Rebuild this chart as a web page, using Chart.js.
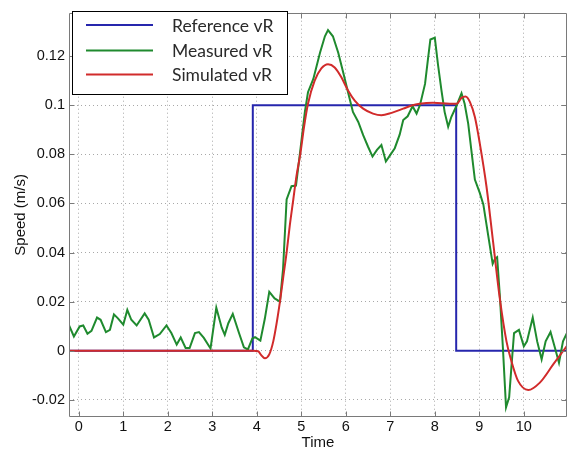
<!DOCTYPE html>
<html>
<head>
<meta charset="utf-8">
<script src="https://cdn.jsdelivr.net/npm/chart.js@4/dist/chart.umd.min.js"></script>
<style>
html,body{margin:0;padding:0;background:#fff;}
canvas{display:block;}
</style>
</head>
<body>
<canvas id="c" width="569" height="453"></canvas>
<script>
// ---- data ----
const xTicks = [0,1,2,3,4,5,6,7,8,9,10];
const yTicks = [-0.02,0,0.02,0.04,0.06,0.08,0.1,0.12];
const yTickLabels = ['-0.02','0','0.02','0.04','0.06','0.08','0.1','0.12'];

const refT = [-0.22, 3.91, 3.91, 8.48, 8.48, 10.97];
const refV = [0, 0, 0.1, 0.1, 0, 0];

const measT = [-0.24,-0.11,0.02,0.10,0.195,0.285,0.41,0.49,0.61,0.70,0.79,0.88,1.0,1.09,1.18,1.30,1.48,1.57,1.69,1.82,1.97,2.08,2.20,2.29,2.40,2.49,2.61,2.70,2.81,2.96,3.09,3.21,3.28,3.36,3.46,3.60,3.71,3.80,3.90,3.96,4.08,4.18,4.28,4.40,4.52,4.59,4.67,4.78,4.88,4.97,5.08,5.15,5.27,5.42,5.53,5.60,5.71,5.83,5.94,6.05,6.16,6.28,6.39,6.50,6.60,6.70,6.80,6.90,7.00,7.10,7.21,7.29,7.39,7.50,7.59,7.67,7.78,7.85,7.90,8.00,8.07,8.15,8.22,8.30,8.37,8.49,8.60,8.67,8.75,8.82,8.90,9.01,9.09,9.20,9.30,9.35,9.40,9.46,9.53,9.60,9.67,9.72,9.78,9.89,10.0,10.07,10.20,10.30,10.40,10.49,10.60,10.70,10.79,10.88,10.97];
const measV = [0.0112,0.0058,0.0099,0.0103,0.0069,0.0081,0.0135,0.0126,0.0076,0.0085,0.0148,0.0132,0.0106,0.0166,0.0126,0.0103,0.0152,0.0126,0.0054,0.0068,0.0103,0.0072,0.0025,0.0054,0.0011,0.0011,0.0072,0.0076,0.0052,0.0009,0.0175,0.0095,0.0065,0.0112,0.0150,0.0072,0.0014,0.0005,0.0050,0.0055,0.0041,0.0130,0.0240,0.0213,0.0200,0.0334,0.0616,0.0670,0.0673,0.0805,0.0973,0.1053,0.1107,0.1214,0.1281,0.1306,0.1281,0.1214,0.1134,0.1053,0.0973,0.0932,0.0878,0.0831,0.0791,0.0818,0.0838,0.0771,0.0798,0.0825,0.0880,0.0940,0.0955,0.0996,0.0966,0.1003,0.1087,0.1194,0.1268,0.1275,0.1167,0.1060,0.0973,0.0912,0.0952,0.0999,0.1049,0.1006,0.0925,0.0818,0.0697,0.0643,0.0596,0.0469,0.0354,0.0374,0.0381,0.0227,0.0011,-0.0231,-0.0190,-0.0069,0.0072,0.0085,0.0018,0.0038,0.0135,0.0038,-0.0035,0.0038,0.0076,0.0011,-0.0049,0.0038,0.0072];

const simT = [-0.22,3.92,4.03,4.10,4.18,4.28,4.37,4.44,4.52,4.59,4.67,4.74,4.82,4.89,4.98,5.06,5.15,5.30,5.45,5.60,5.75,5.90,6.05,6.20,6.39,6.61,6.80,7.03,7.29,7.48,7.66,7.96,8.34,8.49,8.60,8.69,8.79,8.90,9.01,9.16,9.31,9.46,9.61,9.72,9.87,10.10,10.36,10.66,10.97];
const simV = [0,0,-0.0002,-0.0018,-0.0031,-0.0015,0.0038,0.0106,0.0200,0.0294,0.0401,0.0509,0.0616,0.0710,0.0804,0.0910,0.1006,0.1100,0.1150,0.1167,0.1154,0.1114,0.1060,0.1019,0.0986,0.0966,0.0959,0.0969,0.0986,0.0999,0.1006,0.1010,0.1006,0.1006,0.1030,0.1036,0.1013,0.0952,0.0845,0.0670,0.0442,0.0213,0.0038,-0.0042,-0.0123,-0.0160,-0.0130,-0.0056,0.0020];

const seriesNames = ['Reference vR','Measured vR','Simulated vR'];
const seriesColors = ['#2626ad','#1f8a2e','#d12b2b'];

const toPts = (t, v) => t.map((x, i) => ({x: x, y: v[i]}));

const TICKFONT = {family: '"Liberation Sans", Arial, sans-serif', size: 14.5};

const framePlugin = {
  id: 'frame',
  afterDatasetsDraw(chart) {
    const {ctx, chartArea: a, scales} = chart;
    ctx.save();
    ctx.strokeStyle = '#7a7a7a';
    ctx.lineWidth = 1;
    ctx.beginPath();
    const L = Math.round(a.left) + 0.5, R = Math.round(a.right) - 0.5;
    const T = Math.round(a.top) + 0.5, B = Math.round(a.bottom) - 0.5;
    ctx.rect(L, T, R - L, B - T);
    const tl = 5;
    xTicks.forEach(v => {
      const px = Math.round(scales.x.getPixelForValue(v)) + 0.5;
      ctx.moveTo(px, B); ctx.lineTo(px, B - tl);
      ctx.moveTo(px, T); ctx.lineTo(px, T + tl);
    });
    yTicks.forEach(v => {
      const py = Math.round(scales.y.getPixelForValue(v)) + 0.5;
      ctx.moveTo(L, py); ctx.lineTo(L + tl, py);
      ctx.moveTo(R, py); ctx.lineTo(R - tl, py);
    });
    ctx.stroke();
    ctx.restore();
  },
  afterDraw(chart) {
    const {ctx} = chart;
    const ds = chart.data.datasets;
    ctx.save();
    const bx = 72.5, by = 11.5, bw = 215, bh = 83;
    ctx.fillStyle = '#fff';
    ctx.fillRect(bx, by, bw, bh);
    ctx.strokeStyle = '#000';
    ctx.lineWidth = 1;
    ctx.strokeRect(bx, by, bw, bh);
    ctx.font = '17.5px Lato, "Open Sans", sans-serif';
    ctx.textBaseline = 'middle';
    ctx.textAlign = 'left';
    const rows = [25, 50.5, 74.5];
    ds.forEach((d, i) => {
      ctx.strokeStyle = d.borderColor;
      ctx.lineWidth = 2;
      ctx.beginPath();
      ctx.moveTo(86, rows[i]); ctx.lineTo(153, rows[i]);
      ctx.stroke();
      ctx.fillStyle = '#2a2a2a';
      ctx.fillText(d.label, 172, rows[i] + 1);
    });
    ctx.restore();
  }
};

new Chart(document.getElementById('c'), {
  type: 'line',
  data: {
    datasets: [
      {label: seriesNames[0], data: toPts(refT, refV), borderColor: seriesColors[0], borderWidth: 2, pointRadius: 0, tension: 0, fill: false, order: 2},
      {label: seriesNames[1], data: toPts(measT, measV), borderColor: seriesColors[1], borderWidth: 2, pointRadius: 0, tension: 0, fill: false, order: 1},
      {label: seriesNames[2], data: toPts(simT, simV), borderColor: seriesColors[2], borderWidth: 2, pointRadius: 0, cubicInterpolationMode: 'monotone', fill: false, order: 0}
    ]
  },
  options: {
    responsive: false,
    animation: false,
    devicePixelRatio: 1,
    layout: {padding: {left: 0, top: 8, right: 2, bottom: 0}},
    plugins: {legend: {display: false}, tooltip: {enabled: false}},
    scales: {
      x: {
        type: 'linear',
        min: -0.22, max: 10.97,
        afterBuildTicks: s => { s.ticks = xTicks.map(v => ({value: v})); },
        afterFit: s => { s.height = 36; },
        ticks: {font: TICKFONT, color: '#111', padding: 1, maxRotation: 0, autoSkip: false,
                callback: v => String(v)},
        grid: {color: '#a8a8a8', lineWidth: 1, drawTicks: false},
        border: {display: false, dash: [1, 3]},
        title: {display: true, text: 'Time', font: {family: '"Liberation Sans", Arial, sans-serif', size: 15}, color: '#111', padding: {top: 0, bottom: 1}}
      },
      y: {
        type: 'linear',
        min: -0.027, max: 0.1377,
        afterBuildTicks: s => { s.ticks = yTicks.map(v => ({value: v})); },
        afterFit: s => { s.width = 69; },
        ticks: {font: TICKFONT, color: '#111', padding: 4, autoSkip: false,
                callback: v => { const i = yTicks.findIndex(t => Math.abs(t - v) < 1e-9); return i >= 0 ? yTickLabels[i] : ''; }},
        grid: {color: '#a8a8a8', lineWidth: 1, drawTicks: false},
        border: {display: false, dash: [1, 3]},
        title: {display: true, text: 'Speed (m/s)', font: {family: '"Liberation Sans", Arial, sans-serif', size: 15}, color: '#111', padding: {top: 12, bottom: 0}}
      }
    }
  },
  plugins: [framePlugin]
});
</script>
</body>
</html>
